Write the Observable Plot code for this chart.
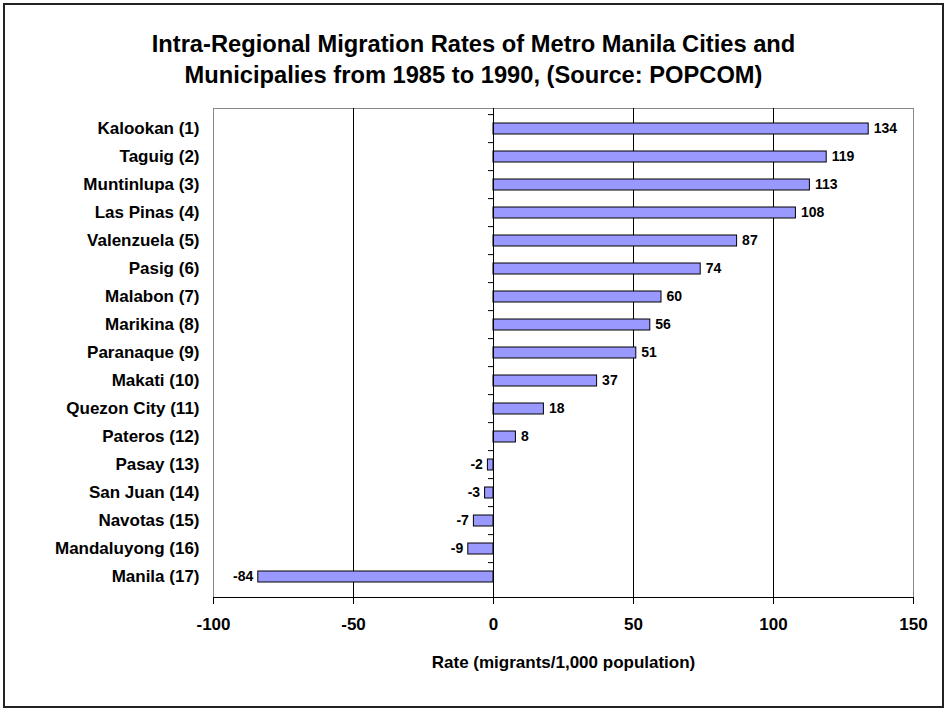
<!DOCTYPE html>
<html>
<head>
<meta charset="utf-8">
<script src="https://cdn.jsdelivr.net/npm/d3@7"></script>
<script src="https://cdn.jsdelivr.net/npm/@observablehq/plot@0.6"></script>
<style>
  html, body { margin: 0; padding: 0; background: #fff; }
  #wrap { position: relative; width: 947px; height: 711px; overflow: hidden; font-family: "Liberation Sans", Arial, sans-serif; }
  #border { position: absolute; left: 3px; top: 3px; width: 941px; height: 705px; box-sizing: border-box; border: 2px solid #222; }
  #title { position: absolute; left: 0; top: 29px; width: 947px; text-align: center; font-weight: bold; font-size: 23.7px; line-height: 31px; color: #000; }
  #chart { position: absolute; left: 0; top: 100px; }
</style>
</head>
<body>
<div id="wrap">
  <div id="border"></div>
  <div id="title">Intra-Regional Migration Rates of Metro Manila Cities and<br>Municipalies from 1985 to 1990, (Source: POPCOM)</div>
  <div id="chart"></div>
</div>
<script>
const cities = ["Kalookan (1)", "Taguig (2)", "Muntinlupa (3)", "Las Pinas (4)", "Valenzuela (5)", "Pasig (6)", "Malabon (7)", "Marikina (8)", "Paranaque (9)", "Makati (10)", "Quezon City (11)", "Pateros (12)", "Pasay (13)", "San Juan (14)", "Navotas (15)", "Mandaluyong (16)", "Manila (17)"];
const rates = [134, 119, 113, 108, 87, 74, 60, 56, 51, 37, 18, 8, -2, -3, -7, -9, -84];
const xTicks = [-100, -50, 0, 50, 100, 150];
const gridValues = [-50, 50, 100];
const xLabel = "Rate (migrants/1,000 population)";

const data = cities.map((c, i) => ({city: c, rate: rates[i]}));
const pos = data.filter(d => d.rate >= 0);
const neg = data.filter(d => d.rate < 0);

const H = 611, mt = 8, mb = 114;
const step = (H - mt - mb) / cities.length;

const chart = Plot.plot({
  width: 947,
  height: H,
  marginLeft: 213,
  marginRight: 34,
  marginTop: mt,
  marginBottom: mb,
  style: {fontFamily: "'Liberation Sans', Arial, sans-serif", fontWeight: "bold", color: "#000", background: "transparent", overflow: "visible"},
  x: {domain: [-100, 150], ticks: xTicks},
  y: {domain: cities, paddingInner: 0.6, paddingOuter: 0.3},
  marks: [
    Plot.frame({stroke: "#888", strokeWidth: 1}),
    Plot.ruleX(gridValues, {stroke: "#000", strokeWidth: 1}),
    Plot.barX(data, {x: "rate", y: "city", fill: "#9999ff", stroke: "#000", strokeWidth: 1}),
    Plot.ruleX([0], {stroke: "#000", strokeWidth: 1}),
    Plot.ruleY(cities, {y: d => d, x1: -1.8, x2: 0, dy: -step / 2, stroke: "#000", strokeWidth: 1}),
    Plot.frame({anchor: "bottom", stroke: "#000", strokeWidth: 1}),
    Plot.axisX({ticks: xTicks, tickFormat: d => String(d), tickSize: 7, tickPadding: 13, fontSize: 17, label: null, stroke: "#000"}),
    Plot.axisY({tickSize: 0, tickPadding: 14, fontSize: 17, label: null}),
    Plot.text(pos, {x: "rate", y: "city", text: d => String(d.rate), textAnchor: "start", dx: 5, fontSize: 14, fontWeight: "bold", fill: "#000"}),
    Plot.text(neg, {x: "rate", y: "city", text: d => String(d.rate), textAnchor: "end", dx: -5, fontSize: 14, fontWeight: "bold", fill: "#000"}),
    Plot.text([xLabel], {text: d => d, frameAnchor: "bottom", dy: 70, fontSize: 17, fontWeight: "bold", fill: "#000"})
  ]
});
document.getElementById("chart").appendChild(chart);
</script>
</body>
</html>
